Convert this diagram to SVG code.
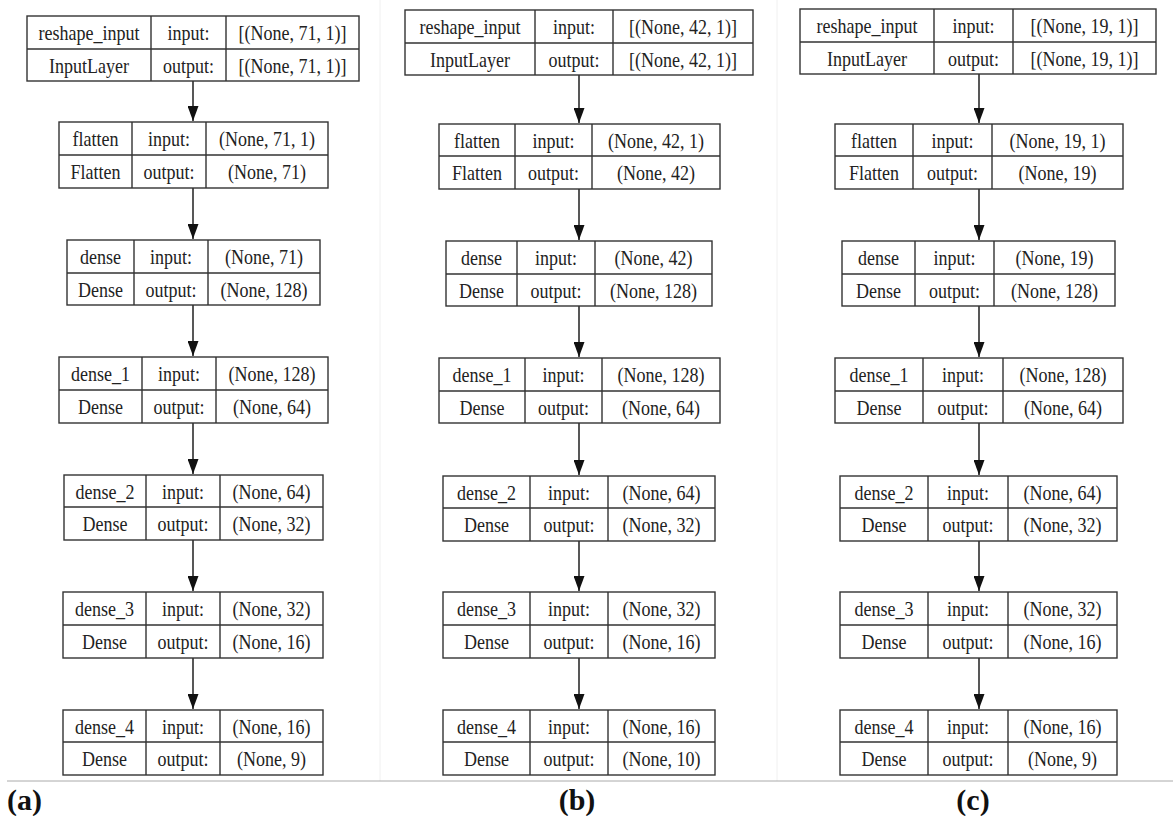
<svg xmlns="http://www.w3.org/2000/svg" width="1173" height="816" viewBox="0 0 1173 816">
<defs>
<style>
.b{fill:#fff;stroke:#333;stroke-width:1.4}
.d{fill:none;stroke:#333;stroke-width:1.4}
.t{font-family:"Liberation Serif","Times New Roman",serif;font-size:21px;fill:#222;text-anchor:middle}
.c{stroke:#111;stroke-width:1.4;fill:none}
.lab{font-family:"Liberation Serif","Times New Roman",serif;font-size:30px;font-weight:bold;fill:#111}
.sep{stroke:#f0f0f0;stroke-width:1}
</style>
<marker id="ah" viewBox="0 0 15 11" refX="15" refY="5.5" markerWidth="15" markerHeight="11" markerUnits="userSpaceOnUse" orient="auto">
<path d="M0,0 L15,5.5 L0,11 Z" fill="#111"/>
</marker>
</defs>
<rect width="1173" height="816" fill="#fff"/>
<line class="sep" x1="380" y1="0" x2="380" y2="781"/>
<line class="sep" x1="777" y1="0" x2="777" y2="781"/>
<line x1="7" y1="781" x2="1173" y2="781" stroke="#aaa" stroke-width="1"/>

<g id="connectors">
<path class="c" d="M193,81 V121" marker-end="url(#ah)"/>
<path class="c" d="M193,188 V239" marker-end="url(#ah)"/>
<path class="c" d="M193,305 V356" marker-end="url(#ah)"/>
<path class="c" d="M193,423 V474" marker-end="url(#ah)"/>
<path class="c" d="M193,540 V591" marker-end="url(#ah)"/>
<path class="c" d="M193,658 V709" marker-end="url(#ah)"/>
<path class="c" d="M579,75 V123" marker-end="url(#ah)"/>
<path class="c" d="M579,189 V240" marker-end="url(#ah)"/>
<path class="c" d="M579,306 V357" marker-end="url(#ah)"/>
<path class="c" d="M579,423 V475" marker-end="url(#ah)"/>
<path class="c" d="M579,541 V591" marker-end="url(#ah)"/>
<path class="c" d="M579,658 V709" marker-end="url(#ah)"/>
<path class="c" d="M979,74 V123" marker-end="url(#ah)"/>
<path class="c" d="M979,189 V240" marker-end="url(#ah)"/>
<path class="c" d="M979,306 V357" marker-end="url(#ah)"/>
<path class="c" d="M979,423 V475" marker-end="url(#ah)"/>
<path class="c" d="M979,541 V591" marker-end="url(#ah)"/>
<path class="c" d="M979,658 V709" marker-end="url(#ah)"/>
</g>

<!-- Panel (a) -->
<g id="a_reshape_input">
<rect class="b" x="27" y="16" width="332" height="65"/>
<path class="d" d="M27,49 H359 M151,16 V81 M226,16 V81"/>
<text class="t" x="89" y="40" textLength="101" lengthAdjust="spacingAndGlyphs">reshape_input</text><text class="t" x="188.5" y="40" textLength="42" lengthAdjust="spacingAndGlyphs">input:</text><text class="t" x="292.5" y="40" textLength="108" lengthAdjust="spacingAndGlyphs">[(None, 71, 1)]</text>
<text class="t" x="89" y="72.5" textLength="80" lengthAdjust="spacingAndGlyphs">InputLayer</text><text class="t" x="188.5" y="72.5" textLength="51" lengthAdjust="spacingAndGlyphs">output:</text><text class="t" x="292.5" y="72.5" textLength="108" lengthAdjust="spacingAndGlyphs">[(None, 71, 1)]</text>
</g>
<g id="a_flatten">
<rect class="b" x="59" y="122" width="269" height="66"/>
<path class="d" d="M59,155 H328 M132,122 V188 M206,122 V188"/>
<text class="t" x="95.5" y="146" textLength="46" lengthAdjust="spacingAndGlyphs">flatten</text><text class="t" x="169" y="146" textLength="42" lengthAdjust="spacingAndGlyphs">input:</text><text class="t" x="267" y="146" textLength="96" lengthAdjust="spacingAndGlyphs">(None, 71, 1)</text>
<text class="t" x="95.5" y="179" textLength="50" lengthAdjust="spacingAndGlyphs">Flatten</text><text class="t" x="169" y="179" textLength="51" lengthAdjust="spacingAndGlyphs">output:</text><text class="t" x="267" y="179" textLength="78" lengthAdjust="spacingAndGlyphs">(None, 71)</text>
</g>
<g id="a_dense">
<rect class="b" x="67" y="240" width="253" height="65"/>
<path class="d" d="M67,273 H320 M134,240 V305 M208,240 V305"/>
<text class="t" x="100.5" y="264" textLength="41" lengthAdjust="spacingAndGlyphs">dense</text><text class="t" x="171" y="264" textLength="42" lengthAdjust="spacingAndGlyphs">input:</text><text class="t" x="264" y="264" textLength="78" lengthAdjust="spacingAndGlyphs">(None, 71)</text>
<text class="t" x="100.5" y="296.5" textLength="45" lengthAdjust="spacingAndGlyphs">Dense</text><text class="t" x="171" y="296.5" textLength="51" lengthAdjust="spacingAndGlyphs">output:</text><text class="t" x="264" y="296.5" textLength="87" lengthAdjust="spacingAndGlyphs">(None, 128)</text>
</g>
<g id="a_dense_1">
<rect class="b" x="59" y="357" width="269" height="66"/>
<path class="d" d="M59,390 H328 M142,357 V423 M216,357 V423"/>
<text class="t" x="100.5" y="381" textLength="59" lengthAdjust="spacingAndGlyphs">dense_1</text><text class="t" x="179" y="381" textLength="42" lengthAdjust="spacingAndGlyphs">input:</text><text class="t" x="272" y="381" textLength="87" lengthAdjust="spacingAndGlyphs">(None, 128)</text>
<text class="t" x="100.5" y="414" textLength="45" lengthAdjust="spacingAndGlyphs">Dense</text><text class="t" x="179" y="414" textLength="51" lengthAdjust="spacingAndGlyphs">output:</text><text class="t" x="272" y="414" textLength="78" lengthAdjust="spacingAndGlyphs">(None, 64)</text>
</g>
<g id="a_dense_2">
<rect class="b" x="64" y="475" width="259" height="65"/>
<path class="d" d="M64,507 H323 M146,475 V540 M220,475 V540"/>
<text class="t" x="105" y="498.5" textLength="59" lengthAdjust="spacingAndGlyphs">dense_2</text><text class="t" x="183" y="498.5" textLength="42" lengthAdjust="spacingAndGlyphs">input:</text><text class="t" x="271.5" y="498.5" textLength="78" lengthAdjust="spacingAndGlyphs">(None, 64)</text>
<text class="t" x="105" y="531" textLength="45" lengthAdjust="spacingAndGlyphs">Dense</text><text class="t" x="183" y="531" textLength="51" lengthAdjust="spacingAndGlyphs">output:</text><text class="t" x="271.5" y="531" textLength="78" lengthAdjust="spacingAndGlyphs">(None, 32)</text>
</g>
<g id="a_dense_3">
<rect class="b" x="63" y="592" width="260" height="66"/>
<path class="d" d="M63,625 H323 M146,592 V658 M220,592 V658"/>
<text class="t" x="104.5" y="616" textLength="59" lengthAdjust="spacingAndGlyphs">dense_3</text><text class="t" x="183" y="616" textLength="42" lengthAdjust="spacingAndGlyphs">input:</text><text class="t" x="271.5" y="616" textLength="78" lengthAdjust="spacingAndGlyphs">(None, 32)</text>
<text class="t" x="104.5" y="649" textLength="45" lengthAdjust="spacingAndGlyphs">Dense</text><text class="t" x="183" y="649" textLength="51" lengthAdjust="spacingAndGlyphs">output:</text><text class="t" x="271.5" y="649" textLength="78" lengthAdjust="spacingAndGlyphs">(None, 16)</text>
</g>
<g id="a_dense_4">
<rect class="b" x="63" y="710" width="260" height="65"/>
<path class="d" d="M63,742 H323 M146,710 V775 M220,710 V775"/>
<text class="t" x="104.5" y="733.5" textLength="59" lengthAdjust="spacingAndGlyphs">dense_4</text><text class="t" x="183" y="733.5" textLength="42" lengthAdjust="spacingAndGlyphs">input:</text><text class="t" x="271.5" y="733.5" textLength="78" lengthAdjust="spacingAndGlyphs">(None, 16)</text>
<text class="t" x="104.5" y="766" textLength="45" lengthAdjust="spacingAndGlyphs">Dense</text><text class="t" x="183" y="766" textLength="51" lengthAdjust="spacingAndGlyphs">output:</text><text class="t" x="271.5" y="766" textLength="69" lengthAdjust="spacingAndGlyphs">(None, 9)</text>
</g>

<!-- Panel (b) -->
<g id="b_reshape_input">
<rect class="b" x="405" y="10" width="348" height="65"/>
<path class="d" d="M405,43 H753 M535,10 V75 M613,10 V75"/>
<text class="t" x="470" y="34" textLength="101" lengthAdjust="spacingAndGlyphs">reshape_input</text><text class="t" x="574" y="34" textLength="42" lengthAdjust="spacingAndGlyphs">input:</text><text class="t" x="683" y="34" textLength="108" lengthAdjust="spacingAndGlyphs">[(None, 42, 1)]</text>
<text class="t" x="470" y="66.5" textLength="80" lengthAdjust="spacingAndGlyphs">InputLayer</text><text class="t" x="574" y="66.5" textLength="51" lengthAdjust="spacingAndGlyphs">output:</text><text class="t" x="683" y="66.5" textLength="108" lengthAdjust="spacingAndGlyphs">[(None, 42, 1)]</text>
</g>
<g id="b_flatten">
<rect class="b" x="439" y="124" width="281" height="65"/>
<path class="d" d="M439,156 H720 M515,124 V189 M592,124 V189"/>
<text class="t" x="477" y="147.5" textLength="46" lengthAdjust="spacingAndGlyphs">flatten</text><text class="t" x="553.5" y="147.5" textLength="42" lengthAdjust="spacingAndGlyphs">input:</text><text class="t" x="656" y="147.5" textLength="96" lengthAdjust="spacingAndGlyphs">(None, 42, 1)</text>
<text class="t" x="477" y="180" textLength="50" lengthAdjust="spacingAndGlyphs">Flatten</text><text class="t" x="553.5" y="180" textLength="51" lengthAdjust="spacingAndGlyphs">output:</text><text class="t" x="656" y="180" textLength="78" lengthAdjust="spacingAndGlyphs">(None, 42)</text>
</g>
<g id="b_dense">
<rect class="b" x="446" y="241" width="266" height="65"/>
<path class="d" d="M446,274 H712 M517,241 V306 M595,241 V306"/>
<text class="t" x="481.5" y="265" textLength="41" lengthAdjust="spacingAndGlyphs">dense</text><text class="t" x="556" y="265" textLength="42" lengthAdjust="spacingAndGlyphs">input:</text><text class="t" x="653.5" y="265" textLength="78" lengthAdjust="spacingAndGlyphs">(None, 42)</text>
<text class="t" x="481.5" y="297.5" textLength="45" lengthAdjust="spacingAndGlyphs">Dense</text><text class="t" x="556" y="297.5" textLength="51" lengthAdjust="spacingAndGlyphs">output:</text><text class="t" x="653.5" y="297.5" textLength="87" lengthAdjust="spacingAndGlyphs">(None, 128)</text>
</g>
<g id="b_dense_1">
<rect class="b" x="439" y="358" width="281" height="65"/>
<path class="d" d="M439,391 H720 M525,358 V423 M602,358 V423"/>
<text class="t" x="482" y="382" textLength="59" lengthAdjust="spacingAndGlyphs">dense_1</text><text class="t" x="563.5" y="382" textLength="42" lengthAdjust="spacingAndGlyphs">input:</text><text class="t" x="661" y="382" textLength="87" lengthAdjust="spacingAndGlyphs">(None, 128)</text>
<text class="t" x="482" y="414.5" textLength="45" lengthAdjust="spacingAndGlyphs">Dense</text><text class="t" x="563.5" y="414.5" textLength="51" lengthAdjust="spacingAndGlyphs">output:</text><text class="t" x="661" y="414.5" textLength="78" lengthAdjust="spacingAndGlyphs">(None, 64)</text>
</g>
<g id="b_dense_2">
<rect class="b" x="443" y="476" width="272" height="65"/>
<path class="d" d="M443,508 H715 M530,476 V541 M608,476 V541"/>
<text class="t" x="486.5" y="499.5" textLength="59" lengthAdjust="spacingAndGlyphs">dense_2</text><text class="t" x="569" y="499.5" textLength="42" lengthAdjust="spacingAndGlyphs">input:</text><text class="t" x="661.5" y="499.5" textLength="78" lengthAdjust="spacingAndGlyphs">(None, 64)</text>
<text class="t" x="486.5" y="532" textLength="45" lengthAdjust="spacingAndGlyphs">Dense</text><text class="t" x="569" y="532" textLength="51" lengthAdjust="spacingAndGlyphs">output:</text><text class="t" x="661.5" y="532" textLength="78" lengthAdjust="spacingAndGlyphs">(None, 32)</text>
</g>
<g id="b_dense_3">
<rect class="b" x="443" y="592" width="272" height="66"/>
<path class="d" d="M443,625 H715 M530,592 V658 M608,592 V658"/>
<text class="t" x="486.5" y="616" textLength="59" lengthAdjust="spacingAndGlyphs">dense_3</text><text class="t" x="569" y="616" textLength="42" lengthAdjust="spacingAndGlyphs">input:</text><text class="t" x="661.5" y="616" textLength="78" lengthAdjust="spacingAndGlyphs">(None, 32)</text>
<text class="t" x="486.5" y="649" textLength="45" lengthAdjust="spacingAndGlyphs">Dense</text><text class="t" x="569" y="649" textLength="51" lengthAdjust="spacingAndGlyphs">output:</text><text class="t" x="661.5" y="649" textLength="78" lengthAdjust="spacingAndGlyphs">(None, 16)</text>
</g>
<g id="b_dense_4">
<rect class="b" x="443" y="710" width="272" height="65"/>
<path class="d" d="M443,742 H715 M530,710 V775 M608,710 V775"/>
<text class="t" x="486.5" y="733.5" textLength="59" lengthAdjust="spacingAndGlyphs">dense_4</text><text class="t" x="569" y="733.5" textLength="42" lengthAdjust="spacingAndGlyphs">input:</text><text class="t" x="661.5" y="733.5" textLength="78" lengthAdjust="spacingAndGlyphs">(None, 16)</text>
<text class="t" x="486.5" y="766" textLength="45" lengthAdjust="spacingAndGlyphs">Dense</text><text class="t" x="569" y="766" textLength="51" lengthAdjust="spacingAndGlyphs">output:</text><text class="t" x="661.5" y="766" textLength="78" lengthAdjust="spacingAndGlyphs">(None, 10)</text>
</g>

<!-- Panel (c) -->
<g id="c_reshape_input">
<rect class="b" x="800" y="9" width="356" height="65"/>
<path class="d" d="M800,42 H1156 M934,9 V74 M1013,9 V74"/>
<text class="t" x="867" y="33" textLength="101" lengthAdjust="spacingAndGlyphs">reshape_input</text><text class="t" x="973.5" y="33" textLength="42" lengthAdjust="spacingAndGlyphs">input:</text><text class="t" x="1084.5" y="33" textLength="108" lengthAdjust="spacingAndGlyphs">[(None, 19, 1)]</text>
<text class="t" x="867" y="65.5" textLength="80" lengthAdjust="spacingAndGlyphs">InputLayer</text><text class="t" x="973.5" y="65.5" textLength="51" lengthAdjust="spacingAndGlyphs">output:</text><text class="t" x="1084.5" y="65.5" textLength="108" lengthAdjust="spacingAndGlyphs">[(None, 19, 1)]</text>
</g>
<g id="c_flatten">
<rect class="b" x="835" y="124" width="288" height="65"/>
<path class="d" d="M835,156 H1123 M913,124 V189 M992,124 V189"/>
<text class="t" x="874" y="147.5" textLength="46" lengthAdjust="spacingAndGlyphs">flatten</text><text class="t" x="952.5" y="147.5" textLength="42" lengthAdjust="spacingAndGlyphs">input:</text><text class="t" x="1057.5" y="147.5" textLength="96" lengthAdjust="spacingAndGlyphs">(None, 19, 1)</text>
<text class="t" x="874" y="180" textLength="50" lengthAdjust="spacingAndGlyphs">Flatten</text><text class="t" x="952.5" y="180" textLength="51" lengthAdjust="spacingAndGlyphs">output:</text><text class="t" x="1057.5" y="180" textLength="78" lengthAdjust="spacingAndGlyphs">(None, 19)</text>
</g>
<g id="c_dense">
<rect class="b" x="842" y="241" width="273" height="65"/>
<path class="d" d="M842,274 H1115 M915,241 V306 M994,241 V306"/>
<text class="t" x="878.5" y="265" textLength="41" lengthAdjust="spacingAndGlyphs">dense</text><text class="t" x="954.5" y="265" textLength="42" lengthAdjust="spacingAndGlyphs">input:</text><text class="t" x="1054.5" y="265" textLength="78" lengthAdjust="spacingAndGlyphs">(None, 19)</text>
<text class="t" x="878.5" y="297.5" textLength="45" lengthAdjust="spacingAndGlyphs">Dense</text><text class="t" x="954.5" y="297.5" textLength="51" lengthAdjust="spacingAndGlyphs">output:</text><text class="t" x="1054.5" y="297.5" textLength="87" lengthAdjust="spacingAndGlyphs">(None, 128)</text>
</g>
<g id="c_dense_1">
<rect class="b" x="835" y="358" width="288" height="65"/>
<path class="d" d="M835,391 H1123 M923,358 V423 M1003,358 V423"/>
<text class="t" x="879" y="382" textLength="59" lengthAdjust="spacingAndGlyphs">dense_1</text><text class="t" x="963" y="382" textLength="42" lengthAdjust="spacingAndGlyphs">input:</text><text class="t" x="1063" y="382" textLength="87" lengthAdjust="spacingAndGlyphs">(None, 128)</text>
<text class="t" x="879" y="414.5" textLength="45" lengthAdjust="spacingAndGlyphs">Dense</text><text class="t" x="963" y="414.5" textLength="51" lengthAdjust="spacingAndGlyphs">output:</text><text class="t" x="1063" y="414.5" textLength="78" lengthAdjust="spacingAndGlyphs">(None, 64)</text>
</g>
<g id="c_dense_2">
<rect class="b" x="840" y="476" width="277" height="65"/>
<path class="d" d="M840,508 H1117 M928,476 V541 M1008,476 V541"/>
<text class="t" x="884" y="499.5" textLength="59" lengthAdjust="spacingAndGlyphs">dense_2</text><text class="t" x="968" y="499.5" textLength="42" lengthAdjust="spacingAndGlyphs">input:</text><text class="t" x="1062.5" y="499.5" textLength="78" lengthAdjust="spacingAndGlyphs">(None, 64)</text>
<text class="t" x="884" y="532" textLength="45" lengthAdjust="spacingAndGlyphs">Dense</text><text class="t" x="968" y="532" textLength="51" lengthAdjust="spacingAndGlyphs">output:</text><text class="t" x="1062.5" y="532" textLength="78" lengthAdjust="spacingAndGlyphs">(None, 32)</text>
</g>
<g id="c_dense_3">
<rect class="b" x="840" y="592" width="277" height="66"/>
<path class="d" d="M840,625 H1117 M928,592 V658 M1008,592 V658"/>
<text class="t" x="884" y="616" textLength="59" lengthAdjust="spacingAndGlyphs">dense_3</text><text class="t" x="968" y="616" textLength="42" lengthAdjust="spacingAndGlyphs">input:</text><text class="t" x="1062.5" y="616" textLength="78" lengthAdjust="spacingAndGlyphs">(None, 32)</text>
<text class="t" x="884" y="649" textLength="45" lengthAdjust="spacingAndGlyphs">Dense</text><text class="t" x="968" y="649" textLength="51" lengthAdjust="spacingAndGlyphs">output:</text><text class="t" x="1062.5" y="649" textLength="78" lengthAdjust="spacingAndGlyphs">(None, 16)</text>
</g>
<g id="c_dense_4">
<rect class="b" x="840" y="710" width="277" height="65"/>
<path class="d" d="M840,742 H1117 M928,710 V775 M1008,710 V775"/>
<text class="t" x="884" y="733.5" textLength="59" lengthAdjust="spacingAndGlyphs">dense_4</text><text class="t" x="968" y="733.5" textLength="42" lengthAdjust="spacingAndGlyphs">input:</text><text class="t" x="1062.5" y="733.5" textLength="78" lengthAdjust="spacingAndGlyphs">(None, 16)</text>
<text class="t" x="884" y="766" textLength="45" lengthAdjust="spacingAndGlyphs">Dense</text><text class="t" x="968" y="766" textLength="51" lengthAdjust="spacingAndGlyphs">output:</text><text class="t" x="1062.5" y="766" textLength="69" lengthAdjust="spacingAndGlyphs">(None, 9)</text>
</g>

<text class="lab" x="7" y="810">(a)</text>
<text class="lab" x="577" y="810" text-anchor="middle">(b)</text>
<text class="lab" x="973" y="810" text-anchor="middle">(c)</text>
</svg>
